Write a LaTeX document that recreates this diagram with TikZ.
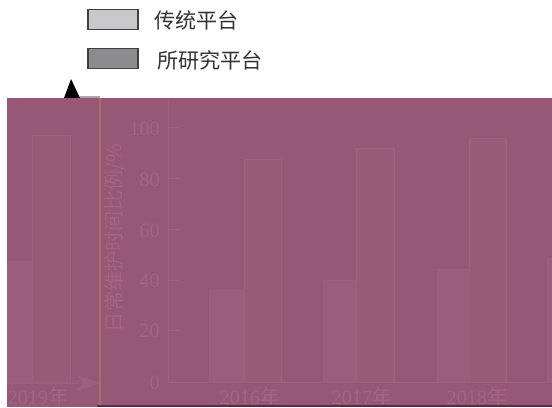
\documentclass[tikz,border=0pt]{standalone}
\usepackage{fontspec}
\setmainfont{Liberation Serif}
\newfontfamily\cjk{Noto Sans CJK SC}
\definecolor{veil}{RGB}{151,88,119}
\definecolor{bartrad}{RGB}{155,93,123}
\definecolor{barown}{RGB}{154,91,121}
\definecolor{barline}{RGB}{157,96,126}
\definecolor{ghost}{RGB}{160,102,131}
\definecolor{seam}{RGB}{170,112,100}
\definecolor{hem}{RGB}{92,42,72}
\definecolor{lgtrad}{RGB}{200,200,202}
\definecolor{lgown}{RGB}{140,140,142}
\tikzset{
    legendbox/.style={
        rectangle,
        draw=black!75,
        line width=0.8pt,
        minimum width=1cm,
        minimum height=0.4cm,
        inner sep=0pt
    },
    legendtext/.style={
        anchor=west,
        inner sep=0pt,
        text=black!80,
        font=\cjk\fontsize{12}{14}\selectfont
    },
    ghosttext/.style={
        inner sep=0pt,
        text=ghost,
        font=\fontsize{11.5}{13}\selectfont
    },
    tradbar/.style={fill=bartrad, draw=barline, line width=0.3pt},
    ownbar/.style={fill=barown, draw=barline, line width=0.3pt}
}

\begin{document}
\begin{tikzpicture}[x=0.02cm,y=-0.02cm]
        \useasboundingbox[fill=white] (0,0) rectangle (552,407);

        % legend
        \node[legendbox,fill=lgtrad] (tradbox) at (113,19.5) {};
        \node[legendtext] (tradtext) at (154,20) {传统平台};
        \node[legendbox,fill=lgown] (ownbox) at (113,58.5) {};
        \node[legendtext] (owntext) at (157,60) {所研究平台};

        % tip of the axis, left above the veil
        \fill[black] (71,79) -- (80,98) -- (64,98) -- cycle;
        \draw[gray!70,line width=1pt] (80,97) -- (100,97);

        % veil over the chart
        \fill[veil] (7,97.5) rectangle (552,407);

        % what shows through the veil
        \draw[tradbar] (7,261) rectangle (32,382);
        \draw[ownbar] (32,135) rectangle (70,382);
        \draw[tradbar] (209,290) rectangle (244,382);
        \draw[ownbar] (244,159) rectangle (281,382);
        \draw[tradbar] (323,280) rectangle (356,382);
        \draw[ownbar] (356,148) rectangle (394,382);
        \draw[tradbar] (437,269) rectangle (469,382);
        \draw[ownbar] (469,138) rectangle (506,382);
        \draw[tradbar] (547,258) rectangle (553,382);

        \draw[barline] (168,97.5) -- (168,382) -- (552,382);
        \draw[barline] (7,383) -- (78,383);
        \fill[barline] (77,375) -- (100,383) -- (77,391) -- (83,383) -- cycle;
        \draw[barline] (168,127) -- (180,127);
        \draw[barline] (168,178) -- (180,178);
        \draw[barline] (168,229) -- (180,229);
        \draw[barline] (168,280) -- (180,280);
        \draw[barline] (168,330) -- (180,330);

        \node[ghosttext,anchor=east] (t100) at (160,129) {100};
        \node[ghosttext,anchor=east] (t80) at (160,180) {80};
        \node[ghosttext,anchor=east] (t60) at (160,231) {60};
        \node[ghosttext,anchor=east] (t40) at (160,281) {40};
        \node[ghosttext,anchor=east] (t20) at (160,331) {20};
        \node[ghosttext,anchor=east] (t0) at (160,383) {0};
        \node[ghosttext,rotate=90,font=\cjk\fontsize{11.5}{13}\selectfont] (ytitle) at (115,238) {日常维护时间比例/\%};

        \node[ghosttext] (y2019) at (38,397) {2019{\cjk 年}};
        \node[ghosttext] (y2016) at (250,397) {2016{\cjk 年}};
        \node[ghosttext] (y2017) at (362,397) {2017{\cjk 年}};
        \node[ghosttext] (y2018) at (477,397) {2018{\cjk 年}};

        % seam and lower edge
        \draw[seam,line width=1.2pt] (100,97.5) -- (100,407);
        \draw[hem,line width=1.2pt] (97,406.4) -- (552,406.4);
    \end{tikzpicture}
\end{document}
